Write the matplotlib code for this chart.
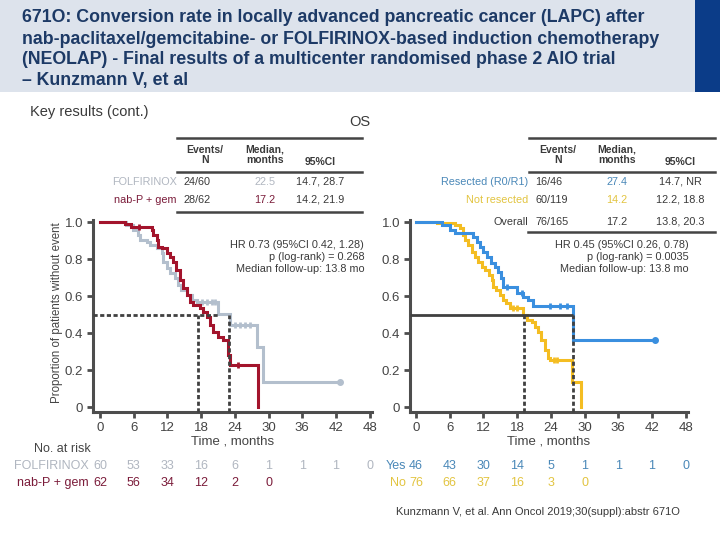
import numpy as np
import matplotlib
matplotlib.use('Agg')
import matplotlib.pyplot as plt
from matplotlib.patches import Rectangle
from matplotlib.lines import Line2D

plt.rcParams['font.family'] = ['Liberation Sans', 'DejaVu Sans']

W, H = 720, 540

# ---- data ----
tick_months = [0, 6, 12, 18, 24, 30, 36, 42, 48]
ytick_vals = [0, 0.2, 0.4, 0.6, 0.8, 1.0]
ytick_labs = ['0', '0.2', '0.4', '0.6', '0.8', '1.0']

folf_t = [0, 4.7, 5.9, 6.8, 7.1, 8.3, 8.9, 10.1, 11.0, 11.3, 11.9, 12.4, 13.3, 13.9, 14.5,
          15.4, 16.3, 17.2, 21.0, 23.1, 27.9, 29.0]
folf_s = [1.0, 0.984, 0.957, 0.93, 0.903, 0.894, 0.876, 0.858, 0.83, 0.786, 0.75, 0.723, 0.696,
          0.66, 0.633, 0.606, 0.578, 0.566, 0.503, 0.443, 0.326, 0.137]
folf_end = 42.7
folf_cens = [18.1, 19.0, 19.9, 20.4, 24.0, 24.9, 25.8, 26.7]

nabp_t = [0, 4.4, 5.6, 9.2, 9.5, 10.1, 10.4, 11.0, 11.9, 12.4, 13.0, 13.6, 14.2, 14.8, 15.4,
          16.0, 16.6, 17.8, 18.4, 19.0, 19.6, 20.1, 21.0, 21.9, 22.8, 23.1, 28.1]
nabp_s = [1.0, 0.99, 0.975, 0.957, 0.93, 0.903, 0.867, 0.858, 0.83, 0.813, 0.786, 0.74, 0.686,
          0.641, 0.606, 0.57, 0.551, 0.533, 0.515, 0.488, 0.443, 0.407, 0.38, 0.362, 0.281,
          0.227, 0.0]
nabp_cens = [7.0, 24.6]

res_t = [0, 4.6, 6.0, 6.9, 10.2, 10.8, 11.4, 12.0, 12.6, 13.4, 14.0, 14.6, 15.2, 15.5, 17.9,
         19.1, 20.0, 20.8, 27.9]
res_s = [1.0, 0.984, 0.957, 0.939, 0.92, 0.894, 0.867, 0.84, 0.813, 0.777, 0.759, 0.732, 0.696,
         0.651, 0.615, 0.597, 0.578, 0.548, 0.362]
res_end = 42.5
res_cens = [16.2, 18.8, 23.8, 25.6, 26.8]

nres_t = [0, 3.7, 6.9, 7.8, 8.4, 8.7, 9.3, 9.9, 10.5, 11.1, 11.7, 12.3, 12.9, 13.5, 13.7, 14.3,
          14.9, 15.5, 16.1, 16.7, 19.1, 19.7, 20.6, 21.2, 21.7, 22.3, 22.9, 23.5, 23.8, 27.7, 29.4]
nres_s = [1.0, 0.993, 0.984, 0.966, 0.93, 0.903, 0.876, 0.84, 0.813, 0.786, 0.759, 0.741, 0.714,
          0.687, 0.651, 0.633, 0.606, 0.578, 0.56, 0.533, 0.497, 0.47, 0.461, 0.434, 0.407,
          0.362, 0.308, 0.263, 0.254, 0.137, 0.0]
nres_cens = [17.3, 17.9, 24.5, 25.0]

left_median_x = [17.4, 23.0]
left_median_hend = 21.0
right_median_x = [19.2, 28.0]
right_median_hend = 28.0

risk_folf = [60, 53, 33, 16, 6, 1, 1, 1, 0]
risk_nabp = [62, 56, 34, 12, 2, 0]
risk_yes = [46, 43, 30, 14, 5, 1, 1, 1, 0]
risk_no = [76, 66, 37, 16, 3, 0]

left_rows = [('FOLFIRINOX', '24/60', '22.5', '14.7, 28.7'),
             ('nab-P + gem', '28/62', '17.2', '14.2, 21.9')]
right_rows = [('Resected (R0/R1)', '16/46', '27.4', '14.7, NR'),
              ('Not resected', '60/119', '14.2', '12.2, 18.8'),
              ('Overall', '76/165', '17.2', '13.8, 20.3')]

title_lines = ['671O: Conversion rate in locally advanced pancreatic cancer (LAPC) after',
               'nab-paclitaxel/gemcitabine- or FOLFIRINOX-based induction chemotherapy',
               '(NEOLAP) - Final results of a multicenter randomised phase 2 AIO trial',
               '\u2013 Kunzmann V, et al']

c_folf = '#b3bfcd'
c_nabp = '#a3142c'
c_res = '#3a8fdf'
c_nres = '#f4bd22'
c_folf_txt = '#b0b6c0'
c_nabp_txt = '#7b1c3a'
c_res_txt = '#4a88b8'
c_nres_txt = '#e2c440'
c_axis = '#4d4d4d'
c_txt = '#3a3a3a'

fig = plt.figure(figsize=(7.2, 5.4), dpi=100)
fig.patch.set_facecolor('white')


def ftext(x, y, s, **kw):
    kw.setdefault('color', c_txt)
    kw.setdefault('va', 'center')
    fig.text(x / W, 1 - y / H, s, **kw)


def hline(x0, x1, y, lw=1.8, color='#444444'):
    fig.add_artist(Line2D([x0 / W, x1 / W], [1 - y / H, 1 - y / H], color=color, lw=lw))


# title banner
fig.add_artist(Rectangle((0, 1 - 92 / H), 1, 92 / H, transform=fig.transFigure,
                         facecolor='#dde3ec', edgecolor='none', zorder=0))
fig.add_artist(Rectangle((695 / W, 1 - 92 / H), 25 / W, 92 / H, transform=fig.transFigure,
                         facecolor='#0b3c88', edgecolor='none', zorder=0))
for i, line in enumerate(title_lines):
    ftext(22, 18 + 21 * i, line, fontsize=12.8, fontweight='bold', color='#1d3a66')

ftext(30, 112, 'Key results (cont.)', fontsize=10.5)
ftext(360, 122, 'OS', fontsize=10.5, ha='center')


def step_at(t, s, x):
    return s[np.searchsorted(t, x, side='right') - 1]


def km(ax, t, s, color, end=None, cens=(), z=3):
    tt = list(t)
    ss = list(s)
    if end is not None:
        tt.append(end)
        ss.append(ss[-1])
    ax.step(tt, ss, where='post', color=color, lw=2.2, zorder=z, solid_joinstyle='miter')
    if len(cens):
        ax.plot(cens, [step_at(t, s, c) for c in cens], ls='none', marker='|', ms=4.5,
                mew=2, color=color, zorder=z)
    if end is not None:
        ax.plot([end], [ss[-1]], ls='none', marker='o', ms=4, color=color, zorder=z)


def setup_axes(ax, xlo):
    ax.set_xlim(xlo, 48.4)
    ax.set_ylim(-0.027, 1.011)
    for sp in ['top', 'right']:
        ax.spines[sp].set_visible(False)
    for sp in ['left', 'bottom']:
        ax.spines[sp].set_color(c_axis)
        ax.spines[sp].set_linewidth(2.2)
    ax.set_xticks(tick_months)
    ax.set_yticks(ytick_vals)
    ax.set_yticklabels(ytick_labs)
    ax.tick_params(direction='out', length=4, width=2, color=c_axis, labelsize=9.5,
                   labelcolor='#444444', pad=3)
    ax.set_facecolor('none')
    ax.set_xlabel('Time , months', fontsize=9.5, color='#444444', labelpad=1)


dash = (0, (1.5, 0.9))

# left KM
axL = fig.add_axes([93 / W, 1 - 412 / H, (372 - 93) / W, 192 / H])
setup_axes(axL, -1.24)
km(axL, folf_t, folf_s, c_folf, end=folf_end, cens=folf_cens, z=3)
km(axL, nabp_t, nabp_s, c_nabp, cens=nabp_cens, z=4)
axL.hlines(0.5, -1.24, left_median_hend, colors='#404040', lw=2, linestyles=dash, zorder=5)
axL.vlines(left_median_x, -0.027, 0.5, colors='#404040', lw=2, linestyles=dash, zorder=5,
           clip_on=False)
axL.text(47, 0.905, 'HR 0.73 (95%CI 0.42, 1.28)\np (log-rank) = 0.268\nMedian follow-up: 13.8 mo',
         ha='right', va='top', fontsize=7.8, color=c_txt, linespacing=1.3)

# right KM
axR = fig.add_axes([410 / W, 1 - 412 / H, (688 - 410) / W, 192 / H])
setup_axes(axR, -1.07)
km(axR, nres_t, nres_s, c_nres, cens=nres_cens, z=3)
km(axR, res_t, res_s, c_res, end=res_end, cens=res_cens, z=4)
axR.hlines(0.5, -1.07, right_median_hend, colors='#404040', lw=2, zorder=5)
axR.vlines(right_median_x, -0.027, 0.5, colors='#404040', lw=2, linestyles=dash, zorder=5,
           clip_on=False)
axR.text(48.5, 0.905, 'HR 0.45 (95%CI 0.26, 0.78)\np (log-rank) = 0.0035\nMedian follow-up: 13.8 mo',
         ha='right', va='top', fontsize=7.8, color=c_txt, linespacing=1.3)

ftext(57, 313, 'Proportion of patients without event', rotation=90, fontsize=8.3,
      ha='center', color='#444444')

# left table
hline(177, 362, 138)
hline(177, 362, 172)
hline(177, 362, 212)
ftext(205, 155, 'Events/\nN', fontsize=7.5, ha='center', linespacing=1.1, fontweight='bold')
ftext(265, 155, 'Median,\nmonths', fontsize=7.5, ha='center', linespacing=1.1, fontweight='bold')
ftext(320, 162, '95%CI', fontsize=7.5, ha='center', fontweight='bold')
row_cols = [(c_folf_txt, c_folf_txt), (c_nabp_txt, c_nabp_txt)]
for (lab, ev, med, ci), (cl, cm), y in zip(left_rows, row_cols, [182, 200]):
    ftext(177, y, lab, fontsize=7.8, ha='right', color=cl)
    ftext(183, y, ev, fontsize=7.8, ha='left')
    ftext(265, y, med, fontsize=7.8, ha='center', color=cm)
    ftext(320, y, ci, fontsize=7.8, ha='center')

# right table
hline(529, 715, 138)
hline(529, 715, 172)
hline(528, 715, 232)
ftext(558, 155, 'Events/\nN', fontsize=7.5, ha='center', linespacing=1.1, fontweight='bold')
ftext(617, 155, 'Median,\nmonths', fontsize=7.5, ha='center', linespacing=1.1, fontweight='bold')
ftext(680, 162, '95%CI', fontsize=7.5, ha='center', fontweight='bold')
row_cols = [(c_res_txt, c_res_txt), (c_nres_txt, c_nres_txt), (c_txt, c_txt)]
for (lab, ev, med, ci), (cl, cm), y in zip(right_rows, row_cols, [182, 200, 222]):
    ftext(528, y, lab, fontsize=7.8, ha='right', color=cl)
    ftext(535, y, ev, fontsize=7.8, ha='left')
    ftext(617, y, med, fontsize=7.8, ha='center', color=cm)
    ftext(680, y, ci, fontsize=7.8, ha='center')

# number at risk
ftext(62, 449, 'No. at risk', fontsize=9, ha='center', color='#444444')


def risk_row(ax, x0_px, y, label, vals, color):
    ftext(x0_px, y, label, fontsize=9, ha='right', color=color)
    for m, v in zip(tick_months, vals):
        xd = ax.transData.transform((m, 0))[0]
        ftext(xd * W / fig.bbox.width, y, str(v), fontsize=9, ha='center', color=color)


risk_row(axL, 89, 466, 'FOLFIRINOX', risk_folf, c_folf_txt)
risk_row(axL, 89, 483, 'nab-P + gem', risk_nabp, c_nabp_txt)
risk_row(axR, 406, 466, 'Yes', risk_yes, c_res_txt)
risk_row(axR, 406, 483, 'No', risk_no, c_nres_txt)

ftext(538, 512, 'Kunzmann V, et al. Ann Oncol 2019;30(suppl):abstr 671O', fontsize=8,
      ha='center')

fig.savefig('out.png', dpi=100)
